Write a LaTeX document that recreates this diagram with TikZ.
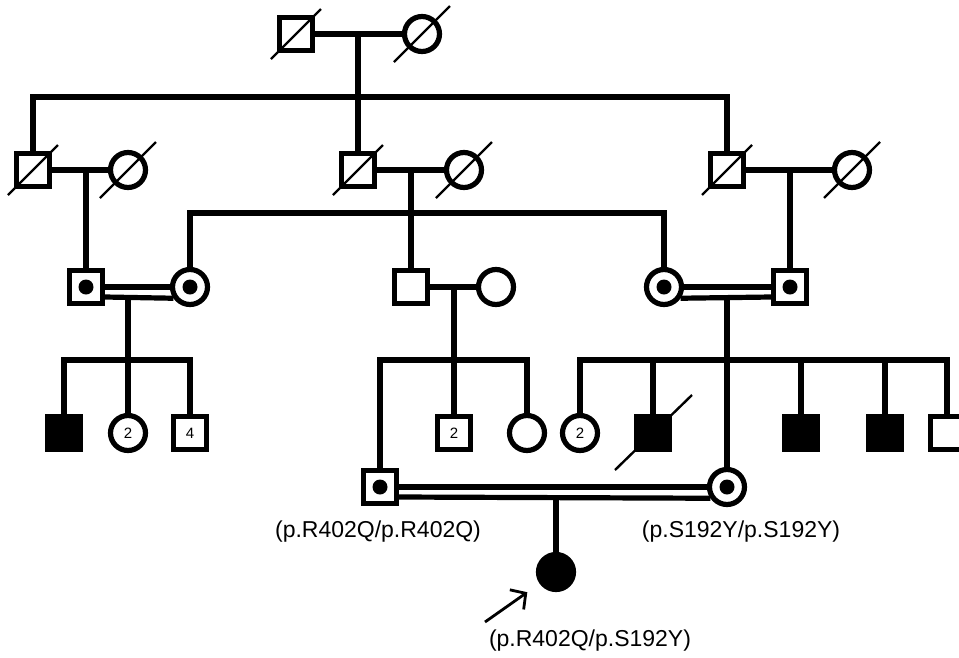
\documentclass[tikz,border=0pt]{standalone}
\usepackage{fontspec}
\setmainfont{Liberation Sans}
\usetikzlibrary{arrows.meta}
\begin{document}
\begin{tikzpicture}[x=1pt,y=-1pt,
  male/.style={draw, rectangle, minimum size=33pt, inner sep=0pt, line width=5.2pt, fill=white},
  female/.style={draw, circle, minimum size=35pt, inner sep=0pt, line width=5.2pt, fill=white},
  aff/.style={fill=black},
  carrier/.style={path picture={\fill[black] (path picture bounding box.center) circle[radius=7.5pt];}},
  conn/.style={line width=5.2pt},
  slash/.style={line width=2.4pt},
  lab/.style={font=\fontsize{23}{26}\selectfont, inner sep=0pt},
  num/.style={font=\fontsize{15}{17}\selectfont},
  pointer/.style={line width=2.8pt, -{Straight Barb[length=11pt,width=24pt]}},
]
\useasboundingbox (0,0) rectangle (959,657);
\fill[white] (0,0) rectangle (959,657);

% Generation I
\node[male] (I1) at (296,34) {};
\node[female] (I2) at (422,34) {};
% Generation II
\node[male] (II1) at (33,170) {};
\node[female] (II2) at (128,170) {};
\node[male] (II3) at (358,170) {};
\node[female] (II4) at (464,170) {};
\node[male] (II5) at (727,170) {};
\node[female] (II6) at (852,170) {};
% Generation III
\node[male, carrier] (III1) at (86,287) {};
\node[female, carrier] (III2) at (190,287) {};
\node[male] (III3) at (411,287) {};
\node[female] (III4) at (496,287) {};
\node[female, carrier] (III5) at (664,287) {};
\node[male, carrier] (III6) at (790,287) {};
% Generation IV
\node[male, aff] (IV1) at (64,433) {};
\node[female, num] (IV2) at (128,433) {2};
\node[male, num] (IV3) at (190,433) {4};
\node[male, carrier] (IV4) at (380,487) {};
\node[male, num] (IV5) at (454,433) {2};
\node[female] (IV6) at (527,433) {};
\node[female, num] (IV7) at (580,433) {2};
\node[male, aff] (IV8) at (653,433) {};
\node[female, carrier] (IV9) at (727,487) {};
\node[male, aff] (IV10) at (801,433) {};
\node[male, aff] (IV11) at (885,433) {};
\node[male] (IV12) at (947,433) {};
% Generation V
\node[female, aff] (V1) at (556,572) {};

% deceased slashes
\foreach \n in {I1,II1,II3,II5}
  \draw[slash] ([shift={(-25,25)}]\n.center) -- ([shift={(25,-25)}]\n.center);
\foreach \n in {I2,II2,II4,II6}
  \draw[slash] ([shift={(-28,28)}]\n.center) -- ([shift={(28,-28)}]\n.center);
\draw[slash] ([shift={(-38,37)}]IV8.center) -- ([shift={(39,-38)}]IV8.center);

% helper coordinates
\coordinate (dI) at (358,34);
\coordinate (sI) at (358,97);
\coordinate (dII1) at (86,170);
\coordinate (dII2) at (411,170);
\coordinate (sII2) at (411,213);
\coordinate (dII3) at (790,170);
\coordinate (dIII1) at (128,297);
\coordinate (sIII1) at (128,360);
\coordinate (dIII2) at (454,287);
\coordinate (sIII2) at (454,360);
\coordinate (dIII3) at (727,297);
\coordinate (sIII3) at (727,360);
\coordinate (dIV) at (556,497);
\coordinate (ar) at (485,622);

% Generation I
\draw[conn] (I1) -- (I2);
\draw[conn] (dI) -- (sI);
\draw[conn] (sI) -| (II1);
\draw[conn] (sI) -| (II5);
\draw[conn] (sI) -- (II3);
% Generation II couples
\draw[conn] (II1) -- (II2);
\draw[conn] (dII1) -- (III1);
\draw[conn] (II3) -- (II4);
\draw[conn] (dII2) -- (III3);
\draw[conn] (sII2) -| (III2);
\draw[conn] (sII2) -| (III5);
\draw[conn] (II5) -- (II6);
\draw[conn] (dII3) -- (III6);
% Generation III couples
\draw[conn] (III1) -- (III2);
\draw[conn] ([yshift=-10pt]III1.east) -- (III2.214);
\draw[conn] (dIII1) -- (IV2);
\draw[conn] (sIII1) -| (IV1);
\draw[conn] (sIII1) -| (IV3);
\draw[conn] (III3) -- (III4);
\draw[conn] (dIII2) -- (IV5);
\draw[conn] (sIII2) -| (IV4);
\draw[conn] (sIII2) -| (IV6);
\draw[conn] (III5) -- (III6);
\draw[conn] (III5.326) -- ([yshift=-10pt]III6.west);
\draw[conn] (dIII3) -- (IV9);
\draw[conn] (sIII3) -| (IV7);
\draw[conn] (sIII3) -| (IV8);
\draw[conn] (sIII3) -| (IV10);
\draw[conn] (sIII3) -| (IV11);
\draw[conn] (sIII3) -| (IV12);
% Generation IV couple
\draw[conn] (IV4) -- (IV9);
\draw[conn] ([yshift=-10pt]IV4.east) -- (IV9.214);
\draw[conn] (dIV) -- (V1);

% proband arrow
\draw[pointer, shorten >=15pt] (ar) -- (V1);

% labels
\node[lab] (L1) at (378,532) {(p.R402Q/p.R402Q)};
\node[lab] (L2) at (741,532) {(p.S192Y/p.S192Y)};
\node[lab] (L3) at (590,641) {(p.R402Q/p.S192Y)};
\end{tikzpicture}
\end{document}
